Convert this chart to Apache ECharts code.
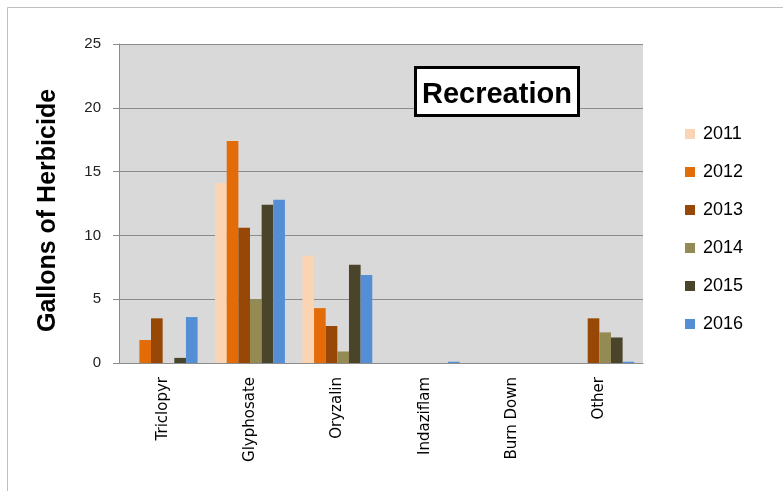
<!DOCTYPE html>
<html>
<head>
<meta charset="utf-8">
<script src="https://cdn.jsdelivr.net/npm/echarts@6/dist/echarts.min.js"></script>
<style>
  html, body { margin: 0; padding: 0; background: #fff; }
  #chart { width: 783px; height: 491px; }
</style>
</head>
<body>
<div id="chart"></div>
<script>
// herbicide categories on the x axis
const categories = ['Triclopyr', 'Glyphosate', 'Oryzalin', 'Indaziflam', 'Burn Down', 'Other']
const years = ['2011', '2012', '2013', '2014', '2015', '2016']
// gallons per year, one value per category
const y2011 = [0, 14.1, 8.4, 0, 0, 0]
const y2012 = [1.8, 17.4, 4.3, 0, 0, 0]
const y2013 = [3.5, 10.6, 2.9, 0, 0, 3.5]
const y2014 = [0, 5.0, 0.9, 0, 0, 2.4]
const y2015 = [0.4, 12.4, 7.7, 0, 0, 2.0]
const y2016 = [3.6, 12.8, 6.9, 0.1, 0, 0.1]
const yTicks = [0, 5, 10, 15, 20, 25]

const yearData = [y2011, y2012, y2013, y2014, y2015, y2016]
const colors = ['#fbd4b4', '#e36c09', '#974806', '#948a54', '#4a452a', '#558ed5']

const chart = echarts.init(document.getElementById('chart'))
const option = {
  animation: false,
  color: colors,
  title: {
    text: 'Recreation',
    left: 415,
    top: 67,
    backgroundColor: '#fff',
    borderColor: '#000',
    borderWidth: 3,
    padding: [13, 7, 7, 7],
    textStyle: {
      fontFamily: 'Liberation Sans',
      fontWeight: 'bold',
      fontSize: 29,
      lineHeight: 29,
      color: '#000'
    }
  },
  legend: {
    orient: 'vertical',
    left: 680,
    top: 120,
    itemWidth: 10,
    itemHeight: 10,
    itemGap: 20,
    icon: 'rect',
    data: years,
    textStyle: {
      fontFamily: 'Liberation Sans',
      fontSize: 18,
      lineHeight: 18,
      color: '#000',
      padding: [0, 0, 0, 3]
    }
  },
  graphic: [{
    // outer chart frame
    type: 'rect',
    silent: true,
    shape: { x: 7.5, y: 7.5, width: 800, height: 500 },
    style: { fill: 'none', stroke: '#bfbfbf', lineWidth: 1 }
  }],
  grid: {
    left: 119,
    top: 44,
    right: 140,
    bottom: 128,
    show: true,
    backgroundColor: '#d9d9d9',
    borderWidth: 0
  },
  xAxis: {
    type: 'category',
    data: categories,
    axisLine: { lineStyle: { color: '#8c8c8c' } },
    axisTick: { length: 8, lineStyle: { color: '#8c8c8c' } },
    axisLabel: {
      rotate: 90,
      margin: 14,
      fontFamily: 'DejaVu Sans',
      fontSize: 15,
      color: '#000'
    }
  },
  yAxis: {
    type: 'value',
    min: yTicks[0],
    max: yTicks[yTicks.length - 1],
    interval: 5,
    name: 'Gallons of Herbicide',
    nameLocation: 'middle',
    nameGap: 58,
    nameTextStyle: {
      fontFamily: 'Liberation Sans',
      fontWeight: 'bold',
      fontSize: 25,
      color: '#000',
      padding: [0, 14, 0, 0]
    },
    axisLine: { show: true, lineStyle: { color: '#8c8c8c' } },
    axisTick: { show: true, length: 6, lineStyle: { color: '#8c8c8c' } },
    axisLabel: {
      margin: 18,
      fontFamily: 'Liberation Sans',
      fontSize: 15,
      color: '#222'
    },
    splitLine: { lineStyle: { color: '#8c8c8c', width: 1 } }
  },
  series: years.map((y, i) => ({
    name: y,
    type: 'bar',
    data: yearData[i],
    barGap: 0,
    barCategoryGap: '20%'
  }))
}
chart.setOption(option)
</script>
</body>
</html>
